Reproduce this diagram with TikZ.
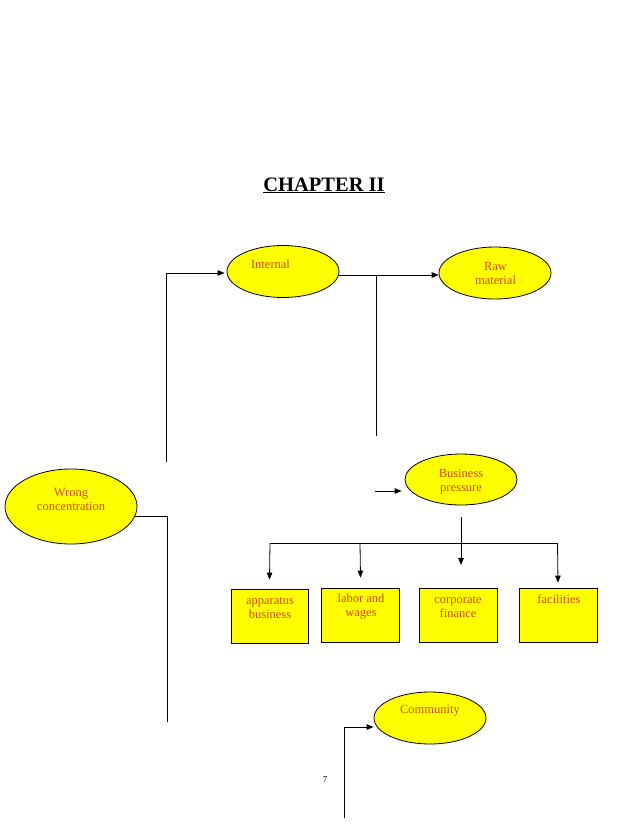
\documentclass[tikz,border=0pt]{standalone}
\usepackage{fontspec}
\setmainfont{Liberation Serif}
\usetikzlibrary{arrows.meta}
\usetikzlibrary{shapes.geometric}
\definecolor{chartYellow}{HTML}{FFFF00}
\definecolor{chartRed}{HTML}{D24A0E}

\begin{document}
\begin{tikzpicture}[x=1pt,y=-1pt]
\tikzset{Bubble/.style={
  draw=black,
  fill=chartYellow,
  ellipse,
  line width=0.8pt,
  inner sep=0pt,
  minimum width=112pt,
  minimum height=52pt,
}}
\tikzset{Card/.style={
  draw=black,
  fill=chartYellow,
  rectangle,
  line width=0.8pt,
  inner sep=0pt,
  minimum width=78pt,
  minimum height=54pt,
}}
\tikzset{Caption/.style={
  text=chartRed,
  align=center,
  inner sep=0pt,
  font=\fontsize{12.5}{14}\selectfont
}}
\tikzset{Link/.style={line width=0.8pt, draw=black}}
\tikzset{Arrow/.style={Link, -{Triangle[length=7pt,width=5.5pt]}}}

\useasboundingbox[fill=white] (0,0) rectangle (638,825);

\node[font=\fontsize{20.5}{24}\selectfont\bfseries, inner sep=0pt, anchor=base] (title) at (324,191) {\underline{CHAPTER II}};

% ellipses
\node[Bubble] (internal) at (283,271.5) {};
\node[Caption] (internal-text) at (270.5,264.5) {Internal};
\node[Bubble] (raw) at (495,273) {};
\node[Caption] (raw-text) at (495.5,273.5) {Raw\\material};
\node[Bubble, minimum width=132pt, minimum height=75pt] (wrong) at (71,506.5) {};
\node[Caption] (wrong-text) at (71,499) {Wrong\\concentration};
\node[Bubble, minimum height=51pt] (business) at (461,479.5) {};
\node[Caption] (business-text) at (461,482) {Business\\pressure};
\node[Bubble] (community) at (430,718) {};
\node[Caption] (community-text) at (430,711) {Community};

% boxes
\node[Card, minimum width=77pt] (apparatus) at (269.5,616) {};
\node[Caption] (apparatus-text) at (270,608) {apparatus\\business};
\node[Card] (labor) at (360.5,615) {};
\node[Caption] (labor-text) at (361,607) {labor and\\wages};
\node[Card] (corporate) at (458,615) {};
\node[Caption] (corporate-text) at (458,607.5) {corporate\\finance};
\node[Card] (facilities) at (558,615) {};
\node[Caption] (facilities-text) at (559,599) {facilities};

% connectors
\coordinate (upper-start) at (166,462);
\coordinate (upper-knee) at (166,273);
\draw[Arrow, shorten >=2pt] (upper-start) -- (upper-knee) -- (upper-knee -| internal.west);

\coordinate (split) at (376,275);
\coordinate (split-end) at (376,436);
\draw[Arrow] (split -| internal.east) -- (split -| raw.west);
\draw[Link] (split) -- (split-end);

\coordinate (lower-knee) at (167,516);
\coordinate (lower-end) at (167,722);
\draw[Link, shorten <=-2pt] (lower-knee -| wrong.east) -- (lower-knee) -- (lower-end);

\coordinate (pressure-in) at (375,491);
\draw[Arrow, shorten >=3pt] (pressure-in) -- (pressure-in -| business.west);

\coordinate (pressure-out) at (461,517);
\coordinate (pressure-tip) at (461,565);
\draw[Arrow] (pressure-out) -- (pressure-tip);

\coordinate (bus-left) at (270,543);
\coordinate (bus-mid) at (360,543);
\coordinate (bus-right) at (557.5,543);
\draw[Link] (bus-left) -- (bus-right);
\draw[Arrow] (bus-left) -- ([yshift=9pt]apparatus.north);
\draw[Arrow] (bus-mid) -- ([yshift=10pt]labor.north);
\draw[Arrow] (bus-right) -- ([yshift=5pt]facilities.north);

\coordinate (community-start) at (344,818);
\coordinate (community-knee) at (344,727);
\draw[Arrow] (community-start) -- (community-knee) -- (community-knee -| community.west);

\node[font=\fontsize{9}{10}\selectfont, inner sep=0pt] (page-number) at (325,780) {7};
\end{tikzpicture}
\end{document}
